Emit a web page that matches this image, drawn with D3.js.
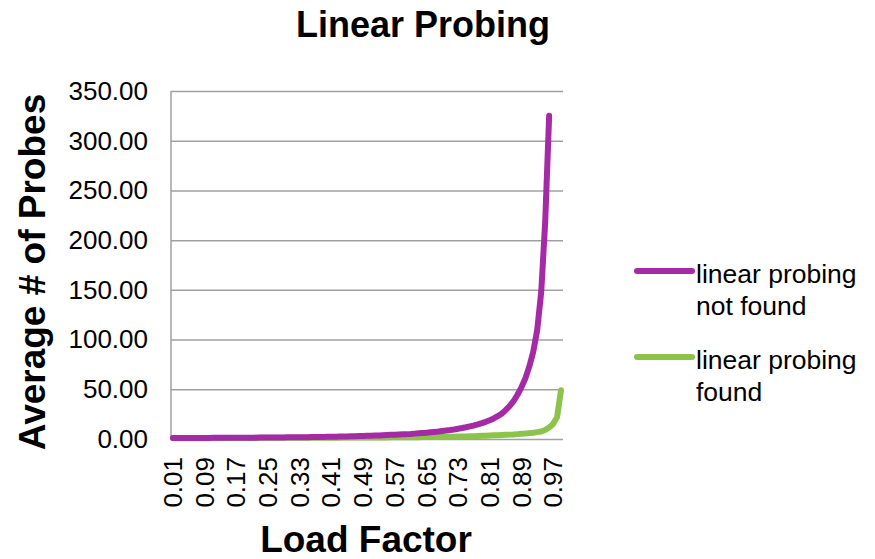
<!DOCTYPE html>
<html>
<head>
<meta charset="utf-8">
<script src="https://cdn.jsdelivr.net/npm/d3@7"></script>
<style>
  body { margin: 0; background: #fff; }
  svg { display: block; font-family: "Liberation Sans", Arial, sans-serif; }
</style>
</head>
<body>
<div id="chart"></div>
<script>
// ---
// Data
// ---
const loadFactors = d3.range(1, 100).map(i => (i / 100).toFixed(2))

const notFound = [
  1.01, 1.02, 1.03, 1.04, 1.06, 1.07, 1.08, 1.10, 1.11, 1.13,
  1.14, 1.16, 1.18, 1.20, 1.22, 1.24, 1.26, 1.28, 1.31, 1.33,
  1.36, 1.38, 1.41, 1.44, 1.47, 1.50, 1.54, 1.57, 1.61, 1.65,
  1.69, 1.73, 1.78, 1.83, 1.88, 1.93, 1.99, 2.05, 2.11, 2.18,
  2.25, 2.33, 2.41, 2.50, 2.59, 2.69, 2.80, 2.91, 3.03, 3.16,
  3.30, 3.45, 3.61, 3.78, 3.96, 4.16, 4.37, 4.60, 4.85, 4.90,
  5.10, 5.40, 5.70, 6.00, 6.30, 6.70, 7.10, 7.50, 8.00, 8.50,
  9.00, 9.60, 10.30, 11.00, 11.80, 12.70, 13.60, 14.70, 15.90, 17.30,
  18.90, 20.70, 22.90, 25.50, 29.00, 33.00, 38.00, 44.50, 52.00, 61.00,
  73.00, 88.00, 110.00, 148.00, 218.00, 325.00, null, null, null
]

const found = [
  1.01, 1.01, 1.02, 1.02, 1.03, 1.03, 1.04, 1.04, 1.05, 1.06,
  1.06, 1.07, 1.07, 1.08, 1.09, 1.10, 1.10, 1.11, 1.12, 1.13,
  1.13, 1.14, 1.15, 1.16, 1.17, 1.18, 1.19, 1.19, 1.20, 1.21,
  1.22, 1.24, 1.25, 1.26, 1.27, 1.28, 1.29, 1.31, 1.32, 1.33,
  1.35, 1.36, 1.38, 1.39, 1.41, 1.43, 1.44, 1.46, 1.48, 1.50,
  1.52, 1.54, 1.56, 1.59, 1.61, 1.64, 1.67, 1.69, 1.72, 1.76,
  1.79, 1.83, 1.86, 1.90, 1.95, 2.00, 2.05, 2.10, 2.16, 2.22,
  2.29, 2.37, 2.45, 2.54, 2.64, 2.75, 2.87, 3.00, 3.15, 3.32,
  3.50, 3.70, 3.85, 4.00, 4.20, 4.40, 4.60, 4.90, 5.20, 5.50,
  5.90, 6.30, 6.90, 7.50, 9.00, 11.50, 15.00, 22.00, 49.00
]

const yTicks = [0, 50, 100, 150, 200, 250, 300, 350]
const xTickLabels = loadFactors.filter((_, i) => i % 8 === 0)

const series = [
  { name: ['linear probing', 'not found'], values: notFound, color: '#A52AA6' },
  { name: ['linear probing', 'found'], values: found, color: '#8CC34B' }
]

// ---
// Layout
// ---
const W = 875
const H = 559
const plot = { left: 171, right: 563, top: 91, bottom: 439 }

const svg = d3.select('#chart').append('svg')
  .attr('width', W)
  .attr('height', H)

// Scales
const xScale = d3.scaleBand()
  .domain(loadFactors)
  .range([plot.left, plot.right])

const yScale = d3.scaleLinear()
  .domain([0, 350])
  .range([plot.bottom, plot.top])

// Gridlines + y labels
const yAxis = d3.axisLeft(yScale)
  .tickValues(yTicks)
  .tickSize(-(plot.right - plot.left))
  .tickFormat(d => d.toFixed(2))
  .tickPadding(23)

const gy = svg.append('g')
  .attr('transform', `translate(${plot.left},0)`)
  .call(yAxis)

gy.select('.domain').remove()
gy.selectAll('.tick line')
  .attr('stroke', '#A0A0A0')
  .attr('stroke-width', 1.5)
gy.selectAll('.tick text')
  .attr('font-size', 26)
  .attr('fill', '#000')

svg.append('line')
  .attr('x1', plot.left).attr('x2', plot.left)
  .attr('y1', plot.top).attr('y2', plot.bottom)
  .attr('stroke', '#A0A0A0')
  .attr('stroke-width', 1.5)

// X axis labels
const xAxis = d3.axisBottom(xScale)
  .tickValues(xTickLabels)
  .tickSize(0)

const gx = svg.append('g')
  .attr('transform', `translate(0,${plot.bottom})`)
  .call(xAxis)

gx.select('.domain').remove()
gx.selectAll('.tick text')
  .attr('font-size', 26)
  .attr('fill', '#000')
  .attr('text-anchor', 'end')
  .attr('dy', '0.35em')
  .attr('y', 0)
  .attr('transform', 'translate(0,18) rotate(-90)')

// Lines
const line = d3.line()
  .defined(d => d != null)
  .x((d, i) => xScale(loadFactors[i]) + xScale.bandwidth() / 2)
  .y(d => yScale(d))

svg.selectAll('.series')
  .data(series)
  .enter()
  .append('path')
    .attr('class', 'series')
    .attr('fill', 'none')
    .attr('stroke', d => d.color)
    .attr('stroke-width', 6)
    .attr('stroke-linecap', 'round')
    .attr('stroke-linejoin', 'round')
    .attr('d', d => line(d.values))

// purple sits on top of green
svg.selectAll('.series').filter((d, i) => i === 0).raise()

// Titles
svg.append('text')
  .attr('x', 423)
  .attr('y', 37)
  .attr('text-anchor', 'middle')
  .attr('font-size', 36)
  .attr('font-weight', 'bold')
  .text('Linear Probing')

svg.append('text')
  .attr('x', 366)
  .attr('y', 552)
  .attr('text-anchor', 'middle')
  .attr('font-size', 37)
  .attr('font-weight', 'bold')
  .text('Load Factor')

svg.append('text')
  .attr('transform', 'translate(45,272) rotate(-90)')
  .attr('text-anchor', 'middle')
  .attr('font-size', 37)
  .attr('font-weight', 'bold')
  .text('Average # of Probes')

// Legend
const legend = svg.selectAll('.legend')
  .data(series)
  .enter()
  .append('g')
    .attr('class', 'legend')
    .attr('transform', (d, i) => `translate(637,${271 + i * 86})`)

legend.append('line')
  .attr('x1', 0).attr('x2', 55)
  .attr('stroke', d => d.color)
  .attr('stroke-width', 6)
  .attr('stroke-linecap', 'round')

legend.append('text')
  .attr('font-size', 26.5)
  .attr('fill', '#000')
  .selectAll('tspan')
  .data(d => d.name)
  .enter()
  .append('tspan')
    .attr('x', 59)
    .attr('y', (d, i) => 12 + i * 32)
    .text(d => d)
</script>
</body>
</html>
